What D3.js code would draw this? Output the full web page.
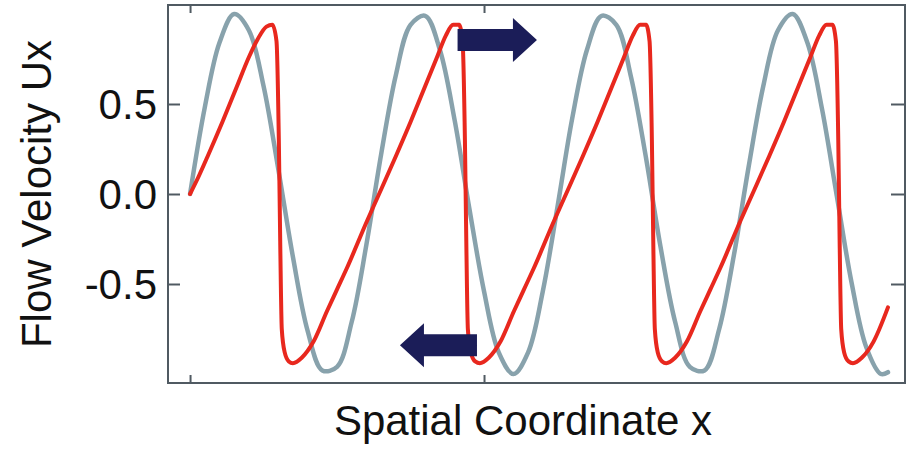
<!DOCTYPE html>
<html><head><meta charset="utf-8">
<script src="https://cdn.jsdelivr.net/npm/d3@7"></script>
<style>html,body{margin:0;padding:0;background:#fff;}svg{display:block;}</style>
</head><body>
<svg id="chart" width="909" height="449"></svg>
<script>
// ---- data ----
const yTicks = [0.5, 0.0, -0.5];
const yTickLabels = ["0.5", "0.0", "-0.5"];
const xTicks = [0, 10];
const xLabel = "Spatial Coordinate x";
const yLabel = "Flow Velocity Ux";

// initial sinusoidal profile (gray)
const grayX = [0,0.5,1,1.5,2,2.5,3,3.5,4,4.5,5,5.5,6,6.5,7,7.5,8,8.5,9,9.5,10,10.5,11,11.5,12,12.5,13,13.5,14,14.5,15,15.5,16,16.5,17,17.5,18,18.5,19,19.5,20,20.5,21,21.5,22,22.5,23,23.5,23.74];
const grayY = [0,0.48,0.84,1.0,0.91,0.6,0.14,-0.35,-0.76,-0.98,-0.96,-0.71,-0.28,0.22,0.66,0.94,0.99,0.8,0.41,-0.08,-0.54,-0.88,-1.0,-0.88,-0.54,-0.07,0.42,0.8,0.99,0.94,0.65,0.21,-0.29,-0.71,-0.96,-0.98,-0.75,-0.34,0.15,0.6,0.91,1.0,0.84,0.47,-0.01,-0.49,-0.85,-1.0,-0.99];

// steepened (shocked) profile (red)
const redX = [0,0.3,0.6,1.1,1.6,2.0,2.3,2.6,2.8,2.94,3.02,3.07,3.12,3.22,3.36,
  3.5,3.8,4.2,4.66,5.0,5.34,6.02,6.43,7.0,7.5,8.0,8.4,8.7,8.95,9.15,9.27,9.35,9.4,9.45,9.55,9.7,
  9.86,10.16,10.56,11.02,11.36,11.7,12.38,12.79,13.36,13.86,14.36,14.76,15.06,15.31,15.51,15.63,15.71,15.76,15.81,15.91,16.06,
  16.2,16.5,16.9,17.36,17.7,18.04,18.72,19.13,19.7,20.2,20.7,21.1,21.4,21.65,21.85,21.97,22.05,22.1,22.15,22.25,22.4,
  22.55,22.85,23.25,23.74];
const redY = [0,0.1,0.21,0.4,0.6,0.76,0.86,0.93,0.94,0.85,0.3,-0.3,-0.75,-0.88,-0.93,
  -0.94,-0.91,-0.82,-0.65,-0.53,-0.41,-0.15,0,0.21,0.4,0.6,0.76,0.88,0.94,0.94,0.85,0.3,-0.3,-0.75,-0.88,-0.93,
  -0.94,-0.91,-0.82,-0.65,-0.53,-0.41,-0.15,0,0.21,0.4,0.6,0.76,0.88,0.94,0.94,0.85,0.3,-0.3,-0.75,-0.88,-0.93,
  -0.94,-0.91,-0.82,-0.65,-0.53,-0.41,-0.15,0,0.21,0.4,0.6,0.76,0.88,0.94,0.94,0.85,0.3,-0.3,-0.75,-0.88,-0.93,
  -0.94,-0.91,-0.82,-0.63];

// propagation-direction arrows: tail x, tip x, level
const arrowTails = [9.1, 9.76];
const arrowTips = [11.8, 7.14];
const arrowLevels = [0.855, -0.84];

// ---- layout ----
const svg = d3.select("#chart");
const L = 168, R = 905, T = 5, B = 383;
const x = d3.scaleLinear().domain([-0.75, 24.32]).range([L, R]);
const y = d3.scaleLinear().domain([-1.05, 1.05]).range([B, T]);
const font = "'Liberation Sans', Arial, Helvetica, sans-serif";
const frameColor = "#505a62";

// curves
const gray = grayX.map((v, i) => [v, grayY[i]]);
const red = redX.map((v, i) => [v, redY[i]]);
svg.append("path").datum(gray)
  .attr("d", d3.line().x(d => x(d[0])).y(d => y(d[1])).curve(d3.curveCatmullRom))
  .attr("fill", "none").attr("stroke", "#88a2ac").attr("stroke-width", 4.5)
  .attr("stroke-linejoin", "round").attr("stroke-linecap", "round");
svg.append("path").datum(red)
  .attr("d", d3.line().x(d => x(d[0])).y(d => y(d[1])).curve(d3.curveMonotoneX))
  .attr("fill", "none").attr("stroke", "#e8281e").attr("stroke-width", 4)
  .attr("stroke-linejoin", "round").attr("stroke-linecap", "round");

// arrows
const arrowColor = "#1b1d58";
arrowTails.forEach((t0, i) => {
  const x0 = x(t0), x1 = x(arrowTips[i]), yc = y(arrowLevels[i]);
  const dir = x1 > x0 ? 1 : -1;
  const headLen = 24, shaftH = 11, headH = 22;
  const xh = x1 - dir * headLen;
  const pts = [[x0, yc - shaftH], [xh, yc - shaftH], [xh, yc - headH], [x1, yc],
               [xh, yc + headH], [xh, yc + shaftH], [x0, yc + shaftH]];
  svg.append("path").attr("d", "M" + pts.map(p => p.join(",")).join("L") + "Z")
    .attr("fill", arrowColor);
});

// frame
svg.append("rect").attr("x", L).attr("y", T).attr("width", R - L).attr("height", B - T)
  .attr("fill", "none").attr("stroke", frameColor).attr("stroke-width", 2);

// y axis (ticks inward on both sides)
const yAxisL = d3.axisLeft(y).tickValues(yTicks).tickSize(-12).tickPadding(24)
  .tickFormat((d, i) => yTickLabels[i]);
const gy = svg.append("g").attr("transform", `translate(${L},0)`).call(yAxisL);
gy.select(".domain").remove();
gy.selectAll(".tick line").attr("stroke", frameColor).attr("stroke-width", 2);
gy.selectAll(".tick text").attr("font-family", font).attr("font-size", 42).attr("fill", "#111")
  .attr("x", -11).attr("dy", "0.35em");

const yAxisR = d3.axisRight(y).tickValues(yTicks).tickSize(-14).tickFormat("");
const gyr = svg.append("g").attr("transform", `translate(${R},0)`).call(yAxisR);
gyr.select(".domain").remove();
gyr.selectAll(".tick line").attr("stroke", frameColor).attr("stroke-width", 2);

// x axis ticks (inward, top and bottom, no labels)
const xAxisB = d3.axisBottom(x).tickValues(xTicks).tickSize(-8).tickFormat("");
const gxb = svg.append("g").attr("transform", `translate(0,${B})`).call(xAxisB);
gxb.select(".domain").remove();
gxb.selectAll(".tick line").attr("stroke", frameColor).attr("stroke-width", 2);
const xAxisT = d3.axisTop(x).tickValues(xTicks).tickSize(-8).tickFormat("");
const gxt = svg.append("g").attr("transform", `translate(0,${T})`).call(xAxisT);
gxt.select(".domain").remove();
gxt.selectAll(".tick line").attr("stroke", frameColor).attr("stroke-width", 2);

// axis titles
svg.append("text").attr("x", 523).attr("y", 435).attr("text-anchor", "middle")
  .attr("font-family", font).attr("font-size", 42).attr("fill", "#111").text(xLabel);
svg.append("text").attr("transform", `translate(51,${(T + B) / 2})rotate(-90)`)
  .attr("text-anchor", "middle").attr("font-family", font).attr("font-size", 42)
  .attr("fill", "#111").text(yLabel);
</script>
</body></html>
